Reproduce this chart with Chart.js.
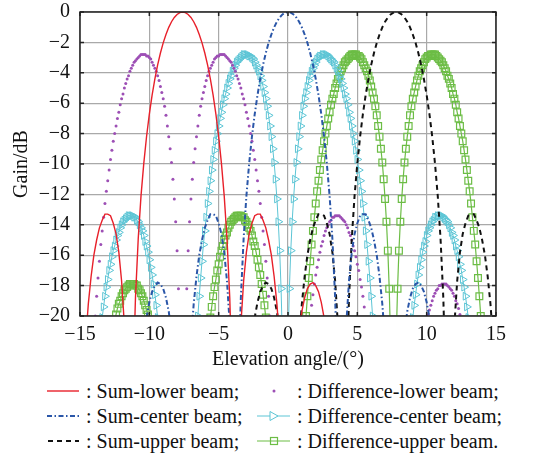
<!DOCTYPE html>
<html>
<head>
<meta charset="utf-8">
<title>Sum and difference beams</title>
<script src="https://cdn.jsdelivr.net/npm/chart.js@4.4.1/dist/chart.umd.min.js"></script>
<style>
  html, body { margin: 0; padding: 0; background: #fff; }
  #wrap { position: relative; width: 538px; height: 458px; overflow: hidden; }
  #chart { position: absolute; left: 0; top: 0; }
  .item { position: absolute; left: 0; width: 538px; height: 24px; line-height: 24px;
          font-family: 'Liberation Serif', 'DejaVu Serif', serif; font-size: 20px; color: #111; white-space: nowrap; }
  .item svg { position: absolute; top: 6px; }
  .item span { position: absolute; top: 0; }
</style>
</head>
<body>
<div id="wrap">
  <canvas id="chart" width="538" height="372"></canvas>

  <!-- legend, two columns -->
  <div class="item" style="top:379px">
    <svg style="left:47px" width="33" height="12"><line x1="0" y1="6" x2="32" y2="6" stroke="#e8202a" stroke-width="1.4"/></svg>
    <span style="left:86px">: Sum-lower beam;</span>
    <svg style="left:257px" width="34" height="12"><circle cx="17" cy="6" r="1.5" fill="#9d4fb5"/></svg>
    <span style="left:297px">: Difference-lower beam;</span>
  </div>
  <div class="item" style="top:404px">
    <svg style="left:47px" width="33" height="12"><line x1="0" y1="6" x2="32" y2="6" stroke="#2a56a8" stroke-width="2" stroke-dasharray="5 2.5 1.5 2.5"/></svg>
    <span style="left:86px">: Sum-center beam;</span>
    <svg style="left:257px" width="34" height="12"><line x1="0" y1="6" x2="33" y2="6" stroke="#5cc5d5" stroke-width="1"/><polygon points="13,1.5 21,6 13,10.5" fill="#fff" stroke="#5cc5d5" stroke-width="1"/></svg>
    <span style="left:297px">: Difference-center beam;</span>
  </div>
  <div class="item" style="top:429px">
    <svg style="left:47px" width="33" height="12"><line x1="1" y1="6" x2="32" y2="6" stroke="#111" stroke-width="2" stroke-dasharray="5 4"/></svg>
    <span style="left:86px">: Sum-upper beam;</span>
    <svg style="left:257px" width="34" height="12"><line x1="0" y1="6" x2="33" y2="6" stroke="#6cbd45" stroke-width="1.2"/><rect x="13.5" y="2.5" width="7" height="7" fill="none" stroke="#6cbd45" stroke-width="1.2"/></svg>
    <span style="left:297px">: Difference-upper beam.</span>
  </div>
</div>

<script>
// sum beams sampled every 0.2 deg, difference beams every 0.1 deg
const angles = [];
for (let k = -150; k <= 150; k += 2) angles.push(k / 10);
const fineAngles = [];
for (let k = -150; k <= 150; k++) fineAngles.push(k / 10);

const xTicks = [-15, -10, -5, 0, 5, 10, 15];
const yTicks = [-20, -18, -16, -14, -12, -10, -8, -6, -4, -2, 0];

// gains in dB (null = not drawn, far below -20)
const sumLower = [
  -31.4, -25.3, -21.7, -19.2, -17.4, -16, -15, -14.2, -13.7, -13.3,
  -13.3, -13.4, -13.9, -14.6, -15.8, -17.7, -20.6, -26.1, -40, -25.1,
  -18.8, -14.9, -12.1, -9.96, -8.19, -6.72, -5.47, -4.4, -3.48, -2.7,
  -2.03, -1.48, -1.01, -0.64, -0.36, -0.16, -0.04, 0, -0.04, -0.16,
  -0.36, -0.64, -1.01, -1.48, -2.03, -2.7, -3.48, -4.4, -5.47, -6.72,
  -8.19, -9.96, -12.1, -14.9, -18.8, -25.1, -40, -26.1, -20.6, -17.7,
  -15.8, -14.6, -13.9, -13.4, -13.3, -13.3, -13.7, -14.2, -15, -16,
  -17.4, -19.2, -21.7, -25.3, -31.4, -40, -31.9, -26.2, -23.1, -21.1,
  -19.7, -18.8, -18.2, -17.9, -17.8, -18, -18.4, -19.1, -20.1, -21.4,
  -23.1, null, null, null, null, null, null, null, null, null,
  null, null, null, null, null, null, null, null, null, null,
  null, null, null, null, null, null, null, null, null, null,
  null, null, null, null, null, null, null, null, null, null,
  null, null, null, null, null, null, null, null, null, null,
  null, null, null, null, null, null, null, null, null, null,
  null
];

const sumCenter = [
  null, null, null, null, null, null, null, null, null, null,
  null, null, null, null, null, null, null, null, null, null,
  null, null, -23.1, -21.4, -20.1, -19.1, -18.4, -18, -17.8, -17.9,
  -18.2, -18.8, -19.7, -21.1, -23.1, -26.2, -31.9, -40, -31.4, -25.3,
  -21.7, -19.2, -17.4, -16, -15, -14.2, -13.7, -13.3, -13.3, -13.4,
  -13.9, -14.6, -15.8, -17.7, -20.6, -26.1, -40, -25.1, -18.8, -14.9,
  -12.1, -9.96, -8.19, -6.72, -5.47, -4.4, -3.48, -2.7, -2.03, -1.48,
  -1.01, -0.64, -0.36, -0.16, -0.04, 0, -0.04, -0.16, -0.36, -0.64,
  -1.01, -1.48, -2.03, -2.7, -3.48, -4.4, -5.47, -6.72, -8.19, -9.96,
  -12.1, -14.9, -18.8, -25.1, -40, -26.1, -20.6, -17.7, -15.8, -14.6,
  -13.9, -13.4, -13.3, -13.3, -13.7, -14.2, -15, -16, -17.4, -19.2,
  -21.7, -25.3, -31.4, -40, -31.9, -26.2, -23.1, -21.1, -19.7, -18.8,
  -18.2, -17.9, -17.8, -18, -18.4, -19.1, -20.1, -21.4, -23.1, null,
  null, null, null, null, null, null, null, null, null, null,
  null, null, null, null, null, null, null, null, null, null,
  null
];

const sumUpper = [
  null, null, null, null, null, null, null, null, null, null,
  null, null, null, null, null, null, null, null, null, null,
  null, null, null, null, null, null, null, null, null, null,
  null, null, null, null, null, null, null, null, null, null,
  null, null, null, null, null, null, null, null, null, null,
  null, null, null, null, null, null, null, null, null, null,
  null, -23.1, -21.4, -20.1, -19.1, -18.4, -18, -17.8, -17.9, -18.2,
  -18.8, -19.7, -21.1, -23.1, -26.2, -31.9, -40, -31.4, -25.3, -21.7,
  -19.2, -17.4, -16, -15, -14.2, -13.7, -13.3, -13.3, -13.4, -13.9,
  -14.6, -15.8, -17.7, -20.6, -26.1, -40, -25.1, -18.8, -14.9, -12.1,
  -9.96, -8.19, -6.72, -5.47, -4.4, -3.48, -2.7, -2.03, -1.48, -1.01,
  -0.64, -0.36, -0.16, -0.04, 0, -0.04, -0.16, -0.36, -0.64, -1.01,
  -1.48, -2.03, -2.7, -3.48, -4.4, -5.47, -6.72, -8.19, -9.96, -12.1,
  -14.9, -18.8, -25.1, -40, -26.1, -20.6, -17.7, -15.8, -14.6, -13.9,
  -13.4, -13.3, -13.3, -13.7, -14.2, -15, -16, -17.4, -19.2, -21.7,
  -25.3
];

// 301 values each, -15.0 .. 15.0 step 0.1
const diffLower = [
  // -15.0 .. -14.3
  null, null, null, null, null, null, null, null,
  // -14.2 .. -7.6
  -24.6, -22.9, -21.4, -20, -18.7, -17.5, -16.4, -15.3, -14.4, -13.5,
  -12.6, -11.8, -11.1, -10.4, -9.7, -9.1, -8.5, -8, -7.5, -7,
  -6.6, -6.1, -5.7, -5.4, -5, -4.7, -4.4, -4.2, -3.9, -3.7,
  -3.5, -3.3, -3.2, -3.1, -3, -2.9, -2.8, -2.8, -2.8, -2.8,
  -2.9, -2.9, -3, -3.1, -3.3, -3.5, -3.7, -3.9, -4.2, -4.5,
  -4.9, -5.3, -5.7, -6.2, -6.8, -7.5, -8.2, -9, -9.9, -11,
  -12.3, -13.8, -15.7, -18.2, -21.7, -27.7, -40,
  // -7.5 .. -0.9
  -27.7, -21.7, -18.2, -15.7, -13.8, -12.3, -11, -9.9, -9, -8.2,
  -7.5, -6.8, -6.2, -5.7, -5.3, -4.9, -4.5, -4.2, -3.9, -3.7,
  -3.5, -3.3, -3.1, -3, -2.9, -2.9, -2.8, -2.8, -2.8, -2.8,
  -2.9, -3, -3.1, -3.2, -3.3, -3.5, -3.7, -3.9, -4.2, -4.4,
  -4.7, -5, -5.4, -5.7, -6.1, -6.6, -7, -7.5, -8, -8.5,
  -9.1, -9.7, -10.4, -11.1, -11.8, -12.6, -13.5, -14.4, -15.3, -16.4,
  -17.5, -18.7, -20, -21.4, -22.9, -24.6,
  // -0.8 .. 1.0
  null, null, null, null, null, null, null, null, null, null,
  null, null, null, null, null, null, null, null, null,
  // 1.1 .. 6.1
  -26.9, -25.4, -24.1, -23, -21.9, -20.9, -20.1, -19.3, -18.6, -17.9,
  -17.3, -16.8, -16.3, -15.8, -15.4, -15.1, -14.7, -14.4, -14.2, -14,
  -13.8, -13.7, -13.5, -13.5, -13.4, -13.4, -13.4, -13.4, -13.5, -13.6,
  -13.7, -13.8, -14, -14.2, -14.5, -14.7, -15, -15.4, -15.7, -16.1,
  -16.6, -17, -17.6, -18.1, -18.7, -19.4, -20.1, -20.8, -21.6, -22.5,
  -23.5,
  // 6.2 .. 9.4
  null, null, null, null, null, null, null, null, null, null,
  null, null, null, null, null, null, null, null, null, null,
  null, null, null, null, null, null, null, null, null, null,
  null, null, null,
  // 9.5 .. 13.1
  -23.7, -23, -22.4, -21.8, -21.3, -20.8, -20.3, -19.9, -19.6, -19.3,
  -19, -18.7, -18.5, -18.3, -18.2, -18, -18, -17.9, -17.9, -17.9,
  -17.9, -18, -18.1, -18.2, -18.3, -18.5, -18.7, -19, -19.2, -19.5,
  -19.9, -20.3, -20.7, -21.1, -21.6, -22.1, -22.7,
  // 13.2 .. 15.0
  null, null, null, null, null, null, null, null, null, null,
  null, null, null, null, null, null, null, null, null, null
];

const diffCenter = [
  // -15.0 .. -13.9
  null, null, null, null, null, null, null, null, null, null,
  null, null,
  // -13.8 .. -8.8
  -23.5, -22.5, -21.6, -20.8, -20.1, -19.4, -18.7, -18.1, -17.6, -17,
  -16.6, -16.1, -15.7, -15.4, -15, -14.7, -14.5, -14.2, -14, -13.8,
  -13.7, -13.6, -13.5, -13.4, -13.4, -13.4, -13.4, -13.5, -13.5, -13.7,
  -13.8, -14, -14.2, -14.4, -14.7, -15.1, -15.4, -15.8, -16.3, -16.8,
  -17.3, -17.9, -18.6, -19.3, -20.1, -20.9, -21.9, -23, -24.1, -25.4,
  -26.9,
  // -8.7 .. -6.9
  null, null, null, null, null, null, null, null, null, null,
  null, null, null, null, null, null, null, null, null,
  // -6.8 .. -0.2
  -24.6, -22.9, -21.4, -20, -18.7, -17.5, -16.4, -15.3, -14.4, -13.5,
  -12.6, -11.8, -11.1, -10.4, -9.7, -9.1, -8.5, -8, -7.5, -7,
  -6.6, -6.1, -5.7, -5.4, -5, -4.7, -4.4, -4.2, -3.9, -3.7,
  -3.5, -3.3, -3.2, -3.1, -3, -2.9, -2.8, -2.8, -2.8, -2.8,
  -2.9, -2.9, -3, -3.1, -3.3, -3.5, -3.7, -3.9, -4.2, -4.5,
  -4.9, -5.3, -5.7, -6.2, -6.8, -7.5, -8.2, -9, -9.9, -11,
  -12.3, -13.8, -15.7, -18.2, -21.7, -27.7, -40,
  // -0.1 .. 6.5
  -27.7, -21.7, -18.2, -15.7, -13.8, -12.3, -11, -9.9, -9, -8.2,
  -7.5, -6.8, -6.2, -5.7, -5.3, -4.9, -4.5, -4.2, -3.9, -3.7,
  -3.5, -3.3, -3.1, -3, -2.9, -2.9, -2.8, -2.8, -2.8, -2.8,
  -2.9, -3, -3.1, -3.2, -3.3, -3.5, -3.7, -3.9, -4.2, -4.4,
  -4.7, -5, -5.4, -5.7, -6.1, -6.6, -7, -7.5, -8, -8.5,
  -9.1, -9.7, -10.4, -11.1, -11.8, -12.6, -13.5, -14.4, -15.3, -16.4,
  -17.5, -18.7, -20, -21.4, -22.9, -24.6,
  // 6.6 .. 8.4
  null, null, null, null, null, null, null, null, null, null,
  null, null, null, null, null, null, null, null, null,
  // 8.5 .. 13.5
  -26.9, -25.4, -24.1, -23, -21.9, -20.9, -20.1, -19.3, -18.6, -17.9,
  -17.3, -16.8, -16.3, -15.8, -15.4, -15.1, -14.7, -14.4, -14.2, -14,
  -13.8, -13.7, -13.5, -13.5, -13.4, -13.4, -13.4, -13.4, -13.5, -13.6,
  -13.7, -13.8, -14, -14.2, -14.5, -14.7, -15, -15.4, -15.7, -16.1,
  -16.6, -17, -17.6, -18.1, -18.7, -19.4, -20.1, -20.8, -21.6, -22.5,
  -23.5,
  // 13.6 .. 15.0
  null, null, null, null, null, null, null, null, null, null,
  null, null, null, null, null, null
];

const diffUpper = [
  // -15.0 .. -13.1
  null, null, null, null, null, null, null, null, null, null,
  null, null, null, null, null, null, null, null, null, null,
  // -13.0 .. -9.4
  -22.7, -22.1, -21.6, -21.1, -20.7, -20.3, -19.9, -19.5, -19.2, -19,
  -18.7, -18.5, -18.3, -18.2, -18.1, -18, -17.9, -17.9, -17.9, -17.9,
  -18, -18, -18.2, -18.3, -18.5, -18.7, -19, -19.3, -19.6, -19.9,
  -20.3, -20.8, -21.3, -21.8, -22.4, -23, -23.7,
  // -9.3 .. -6.1
  null, null, null, null, null, null, null, null, null, null,
  null, null, null, null, null, null, null, null, null, null,
  null, null, null, null, null, null, null, null, null, null,
  null, null, null,
  // -6.0 .. -1.0
  -23.5, -22.5, -21.6, -20.8, -20.1, -19.4, -18.7, -18.1, -17.6, -17,
  -16.6, -16.1, -15.7, -15.4, -15, -14.7, -14.5, -14.2, -14, -13.8,
  -13.7, -13.6, -13.5, -13.4, -13.4, -13.4, -13.4, -13.5, -13.5, -13.7,
  -13.8, -14, -14.2, -14.4, -14.7, -15.1, -15.4, -15.8, -16.3, -16.8,
  -17.3, -17.9, -18.6, -19.3, -20.1, -20.9, -21.9, -23, -24.1, -25.4,
  -26.9,
  // -0.9 .. 0.9
  null, null, null, null, null, null, null, null, null, null,
  null, null, null, null, null, null, null, null, null,
  // 1.0 .. 7.6
  -24.6, -22.9, -21.4, -20, -18.7, -17.5, -16.4, -15.3, -14.4, -13.5,
  -12.6, -11.8, -11.1, -10.4, -9.7, -9.1, -8.5, -8, -7.5, -7,
  -6.6, -6.1, -5.7, -5.4, -5, -4.7, -4.4, -4.2, -3.9, -3.7,
  -3.5, -3.3, -3.2, -3.1, -3, -2.9, -2.8, -2.8, -2.8, -2.8,
  -2.9, -2.9, -3, -3.1, -3.3, -3.5, -3.7, -3.9, -4.2, -4.5,
  -4.9, -5.3, -5.7, -6.2, -6.8, -7.5, -8.2, -9, -9.9, -11,
  -12.3, -13.8, -15.7, -18.2, -21.7, -27.7, -40,
  // 7.7 .. 14.2
  -27.7, -21.7, -18.2, -15.7, -13.8, -12.3, -11, -9.9, -9, -8.2,
  -7.5, -6.8, -6.2, -5.7, -5.3, -4.9, -4.5, -4.2, -3.9, -3.7,
  -3.5, -3.3, -3.1, -3, -2.9, -2.9, -2.8, -2.8, -2.8, -2.8,
  -2.9, -3, -3.1, -3.2, -3.3, -3.5, -3.7, -3.9, -4.2, -4.4,
  -4.7, -5, -5.4, -5.7, -6.1, -6.6, -7, -7.5, -8, -8.5,
  -9.1, -9.7, -10.4, -11.1, -11.8, -12.6, -13.5, -14.4, -15.3, -16.4,
  -17.5, -18.7, -20, -21.4, -22.9, -24.6,
  // 14.3 .. 15.0
  null, null, null, null, null, null, null, null
];

const RED = '#e8202a', BLUE = '#2a56a8', BLACK = '#111', PURPLE = '#9d4fb5', CYAN = '#5cc5d5', GREEN = '#6cbd45';
const FONT = { family: "'Liberation Serif', 'DejaVu Serif', serif", size: 20 };

function pts(xs, values) {
  return values.map((g, i) => ({ x: xs[i], y: g }));
}
function fmt(v) {
  return v < 0 ? '\u2212' + Math.abs(v) : String(v);
}

// black box + small inner ticks
const frame = {
  id: 'frame',
  afterDatasetsDraw(chart) {
    const { ctx, chartArea: a, scales } = chart;
    ctx.save();
    ctx.strokeStyle = '#222';
    ctx.lineWidth = 1.5;
    ctx.beginPath();
    xTicks.forEach(v => {
      const px = scales.x.getPixelForValue(v);
      ctx.moveTo(px, a.top); ctx.lineTo(px, a.top + 4);
      ctx.moveTo(px, a.bottom); ctx.lineTo(px, a.bottom - 4);
    });
    yTicks.forEach(v => {
      const py = scales.y.getPixelForValue(v);
      ctx.moveTo(a.left, py); ctx.lineTo(a.left + 4, py);
      ctx.moveTo(a.right, py); ctx.lineTo(a.right - 4, py);
    });
    ctx.stroke();
    ctx.strokeRect(a.left, a.top, a.right - a.left, a.bottom - a.top);
    ctx.restore();
  }
};

new Chart(document.getElementById('chart'), {
  type: 'line',
  data: {
    datasets: [
      { label: 'Sum-lower beam', data: pts(angles, sumLower), borderColor: RED, borderWidth: 1.4, pointRadius: 0 },
      { label: 'Sum-center beam', data: pts(angles, sumCenter), borderColor: BLUE, borderWidth: 2, borderDash: [5, 2.5, 1.5, 2.5], pointRadius: 0 },
      { label: 'Sum-upper beam', data: pts(angles, sumUpper), borderColor: BLACK, borderWidth: 2, borderDash: [5, 4], pointRadius: 0 },
      { label: 'Difference-lower beam', data: pts(fineAngles, diffLower), showLine: false, pointStyle: 'circle', pointRadius: 1.5,
        pointBackgroundColor: PURPLE, pointBorderColor: PURPLE, pointBorderWidth: 0 },
      { label: 'Difference-center beam', data: pts(fineAngles, diffCenter), borderColor: CYAN, borderWidth: 1,
        pointStyle: 'triangle', pointRotation: 90, pointRadius: 4.5, pointBorderColor: CYAN,
        pointBackgroundColor: 'rgba(0,0,0,0)', pointBorderWidth: 1 },
      { label: 'Difference-upper beam', data: pts(fineAngles, diffUpper), borderColor: GREEN, borderWidth: 1.2,
        pointStyle: 'rect', pointRadius: 4.8, pointBorderColor: GREEN,
        pointBackgroundColor: 'rgba(0,0,0,0)', pointBorderWidth: 1.2 }
    ]
  },
  options: {
    responsive: false,
    animation: false,
    events: [],
    layout: { padding: { top: 12, right: 42, left: 0, bottom: 0 } },
    plugins: { legend: { display: false }, tooltip: { enabled: false } },
    scales: {
      x: {
        type: 'linear', min: -15, max: 15,
        afterBuildTicks: s => { s.ticks = xTicks.map(v => ({ value: v })); },
        afterFit: s => { s.height = 56; },
        grid: { color: '#a9a9a9', lineWidth: 1.2, drawTicks: false },
        border: { display: false },
        ticks: { padding: 7, color: '#111', font: FONT, callback: fmt, maxRotation: 0, autoSkip: false },
        title: { display: true, text: 'Elevation angle/(°)', color: '#111', font: FONT, padding: { top: 0, bottom: 0 } }
      },
      y: {
        type: 'linear', min: -20, max: 0,
        afterBuildTicks: s => { s.ticks = yTicks.map(v => ({ value: v })); },
        afterFit: s => { s.width = 80; s.paddingTop = 0; s.paddingBottom = 0; },
        grid: { color: '#a9a9a9', lineWidth: 1.2, drawTicks: false },
        border: { display: false },
        ticks: { padding: 10, color: '#111', font: FONT, callback: fmt, autoSkip: false },
        title: { display: true, text: 'Gain/dB', color: '#111', font: FONT, padding: { top: 10, bottom: 0 } }
      }
    }
  },
  plugins: [frame]
});
</script>
</body>
</html>
